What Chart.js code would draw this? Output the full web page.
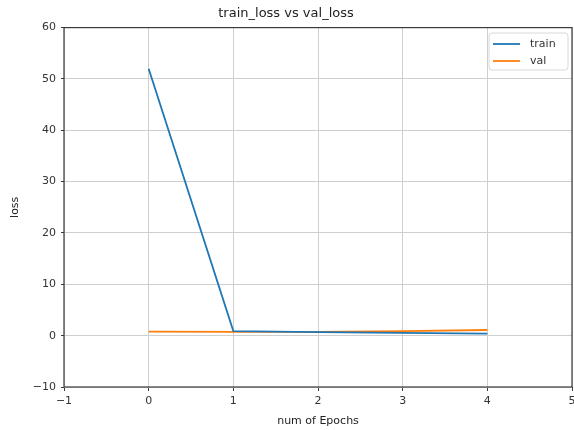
<!DOCTYPE html>
<html>
<head>
<meta charset="utf-8">
<script src="https://cdn.jsdelivr.net/npm/chart.js@4"></script>
<style>
  html, body { margin: 0; padding: 0; background: #fff; }
  #wrap { width: 574px; height: 430px; }
</style>
</head>
<body>
<div id="wrap"><canvas id="c" width="574" height="430"></canvas></div>
<script>
// epochs and losses
const EPOCHS     = [0, 1, 2, 3, 4];
const TRAIN_LOSS = [52, 0.9, 0.7, 0.55, 0.4];
const VAL_LOSS   = [0.8, 0.75, 0.75, 0.9, 1.1];

const X_TICKS = [-1, 0, 1, 2, 3, 4, 5];
const Y_TICKS = [-10, 0, 10, 20, 30, 40, 50, 60];

const FONT = "'DejaVu Sans', sans-serif";
const pts = ys => EPOCHS.map((x, i) => ({ x, y: ys[i] }));
const fmt = v => (v < 0 ? "\u2212" + Math.abs(v) : String(v));

// matplotlib-style frame + in-plot legend
const framePlugin = {
  id: "frame",
  afterDraw(chart) {
    const { ctx, chartArea: a } = chart;
    ctx.save();
    ctx.strokeStyle = "#3a3a3a"; ctx.lineWidth = 1.2;
    ctx.strokeRect(a.left, a.top, a.right - a.left, a.bottom - a.top);

    // legend box, top right
    const bx = 489, by = 33, bw = 79, bh = 37;
    ctx.fillStyle = "rgba(255,255,255,0.85)";
    ctx.strokeStyle = "#d8d8d8"; ctx.lineWidth = 1;
    ctx.beginPath(); ctx.roundRect(bx, by, bw, bh, 3); ctx.fill(); ctx.stroke();
    ctx.font = `11px ${FONT}`; ctx.textBaseline = "middle"; ctx.fillStyle = "#333";
    chart.data.datasets.forEach((ds, i) => {
      const y = by + 11 + i * 17;
      ctx.strokeStyle = ds.borderColor; ctx.lineWidth = 1.8;
      ctx.beginPath(); ctx.moveTo(bx + 4, y); ctx.lineTo(bx + 31, y); ctx.stroke();
      ctx.fillText(ds.label, bx + 41, y);
    });
    ctx.restore();
  },
};

const tickFont = { size: 11, family: FONT };

new Chart(document.getElementById("c"), {
  type: "line",
  data: {
    datasets: [
      { label: "train", data: pts(TRAIN_LOSS), borderColor: "#1f77b4", borderWidth: 1.8, pointRadius: 0, tension: 0, fill: false },
      { label: "val",   data: pts(VAL_LOSS),   borderColor: "#ff7f0e", borderWidth: 1.8, pointRadius: 0, tension: 0, fill: false },
    ],
  },
  options: {
    responsive: false, animation: false,
    layout: { autoPadding: false, padding: { left: 0, right: 2, top: 0, bottom: 0 } },
    plugins: {
      legend: { display: false },
      tooltip: { enabled: false },
      title: { display: true, text: "train_loss vs val_loss", color: "#222", font: { size: 13, family: FONT, weight: "normal" }, padding: { top: 6, bottom: 6 } },
    },
    scales: {
      x: {
        type: "linear", min: -1, max: 5,
        afterBuildTicks: s => { s.ticks = X_TICKS.map(v => ({ value: v })); },
        afterFit: s => { s.height = 43; s.paddingLeft = 0; s.paddingRight = 0; },
        grid: { color: "#cfcfcf", lineWidth: 1, tickLength: 4, tickColor: "#3a3a3a" },
        border: { display: false },
        ticks: { color: "#333", font: tickFont, padding: 4, maxRotation: 0, callback: fmt },
        title: { display: true, text: "num of Epochs", color: "#222", font: tickFont, padding: { top: 4, bottom: 2 } },
      },
      y: {
        type: "linear", min: -10, max: 60,
        afterBuildTicks: s => { s.ticks = Y_TICKS.map(v => ({ value: v })); },
        afterFit: s => { s.width = 64; s.paddingTop = 0; s.paddingBottom = 0; },
        grid: { color: "#cfcfcf", lineWidth: 1, tickLength: 3, tickColor: "#3a3a3a" },
        border: { display: false },
        ticks: { color: "#333", font: tickFont, padding: 5, callback: fmt },
        title: { display: true, text: "loss", color: "#222", font: tickFont, padding: { top: 9, bottom: 4 } },
      },
    },
  },
  plugins: [framePlugin],
});
</script>
</body>
</html>
